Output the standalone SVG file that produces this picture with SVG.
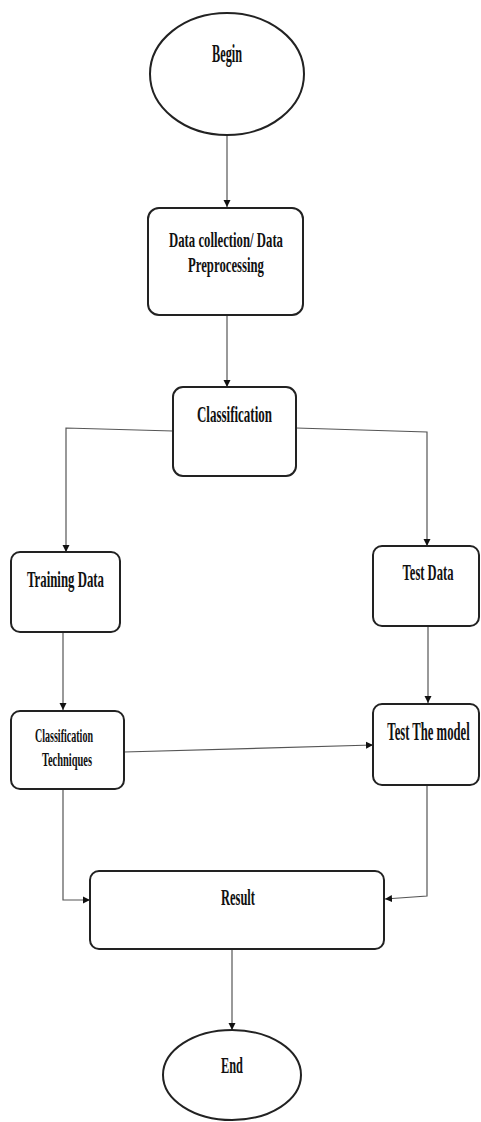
<svg xmlns="http://www.w3.org/2000/svg" width="481" height="1122" viewBox="0 0 481 1122">
<style>
.box{fill:#fff;stroke:#222;stroke-width:2}
.ln{fill:none;stroke:#555;stroke-width:1.2}
.t{font-family:"Liberation Serif","Times New Roman",serif;font-weight:bold;fill:#111;text-anchor:start}
.m{text-anchor:middle}
</style>
<defs>
<marker id="ah" viewBox="0 0 10 10" refX="10" refY="5" markerWidth="7" markerHeight="9" markerUnits="userSpaceOnUse" orient="auto">
<path d="M0,0 L10,5 L0,10 Z" fill="#111"/>
</marker>
</defs>
<rect width="481" height="1122" fill="#fff"/>
<g id="connectors">
<line class="ln" x1="227" y1="135" x2="227" y2="207" marker-end="url(#ah)"/>
<line class="ln" x1="227" y1="315" x2="227" y2="387" marker-end="url(#ah)"/>
<polyline class="ln" points="173,431 66,428 66,552" marker-end="url(#ah)"/>
<polyline class="ln" points="296,428 427,432 427,546" marker-end="url(#ah)"/>
<line class="ln" x1="63" y1="632" x2="63" y2="710" marker-end="url(#ah)"/>
<line class="ln" x1="428" y1="626" x2="428" y2="703" marker-end="url(#ah)"/>
<line class="ln" x1="124" y1="752" x2="373" y2="745" stroke-width="1.8" marker-end="url(#ah)"/>
<polyline class="ln" points="63,789 63,900 90,900" marker-end="url(#ah)"/>
<polyline class="ln" points="427,785 427,896 385,899" marker-end="url(#ah)"/>
<line class="ln" x1="232" y1="949" x2="232" y2="1030" marker-end="url(#ah)"/>
</g>
<g id="begin">
<ellipse class="box" cx="227" cy="74" rx="77" ry="61"/>
<text class="t" x="212" y="62" font-size="26" textLength="30" lengthAdjust="spacingAndGlyphs">Begin</text>
</g>
<g id="data-collection">
<rect class="box" x="148" y="208" width="155" height="107" rx="11"/>
<text class="t" x="169" y="247" font-size="22" textLength="114" lengthAdjust="spacingAndGlyphs">Data collection/ Data</text>
<text class="t" x="188" y="272" font-size="22" textLength="76" lengthAdjust="spacingAndGlyphs">Preprocessing</text>
</g>
<g id="classification">
<rect class="box" x="173" y="387" width="123" height="89" rx="10"/>
<text class="t" x="197" y="422" font-size="23" textLength="75" lengthAdjust="spacingAndGlyphs">Classification</text>
</g>
<g id="training-data">
<rect class="box" x="11" y="552" width="109" height="80" rx="9"/>
<text class="t" x="27" y="587" font-size="23" textLength="77" lengthAdjust="spacingAndGlyphs">Training Data</text>
</g>
<g id="test-data">
<rect class="box" x="373" y="546" width="106" height="80" rx="9"/>
<text class="t m" x="0" y="0" font-size="23" transform="translate(428,580) scale(0.547,1)">Test Data</text>
</g>
<g id="classification-techniques">
<rect class="box" x="11" y="711" width="113" height="78" rx="9"/>
<text class="t" x="35" y="742" font-size="18" textLength="58" lengthAdjust="spacingAndGlyphs">Classification</text>
<text class="t" x="42" y="766" font-size="18" textLength="50" lengthAdjust="spacingAndGlyphs">Techniques</text>
</g>
<g id="test-model">
<rect class="box" x="373" y="704" width="106" height="81" rx="9"/>
<text class="t m" x="0" y="0" font-size="25" transform="translate(428.5,740) scale(0.507,1)">Test The model</text>
</g>
<g id="result">
<rect class="box" x="90" y="871" width="294" height="78" rx="9"/>
<text class="t" x="221" y="905" font-size="23" textLength="34" lengthAdjust="spacingAndGlyphs">Result</text>
</g>
<g id="end">
<ellipse class="box" cx="232" cy="1075" rx="69" ry="45"/>
<text class="t" x="221" y="1073" font-size="23" textLength="22" lengthAdjust="spacingAndGlyphs">End</text>
</g>
</svg>
